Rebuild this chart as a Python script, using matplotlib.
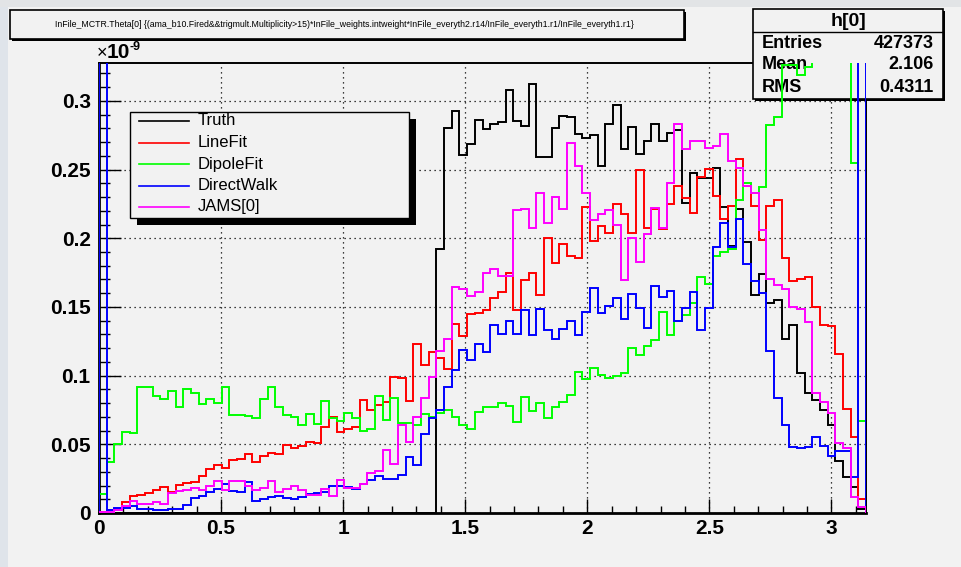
import matplotlib
matplotlib.use("Agg")
import matplotlib.pyplot as plt
from matplotlib.patches import Rectangle
from matplotlib.lines import Line2D
from matplotlib.ticker import MultipleLocator, FuncFormatter
import numpy as np

# ---- histogram contents (units of 1e-9), 100 bins over [0, pi] ----
n_bins = 100
x_min, x_max = 0.0, np.pi

truth = [0.0] * 44 + [
    0.192, 0.280, 0.2925, 0.2605, 0.2686, 0.286, 0.2796, 0.283, 0.2845, 0.308,
    0.2857, 0.2815, 0.3125, 0.259, 0.259, 0.280, 0.289, 0.288, 0.276, 0.273,
    0.2755, 0.2528, 0.283, 0.2967, 0.265, 0.2808, 0.2613, 0.271, 0.283, 0.271,
    0.277, 0.279, 0.226, 0.2475, 0.2438, 0.2438, 0.2508, 0.2228, 0.1943, 0.221,
    0.197, 0.159, 0.174, 0.153, 0.155, 0.127, 0.137, 0.102, 0.0876, 0.0822,
    0.075, 0.064, 0.038, 0.026, 0.019, 0.003]

linefit = [
    0.001, 0.0025, 0.003, 0.0078, 0.0122, 0.0134, 0.0146, 0.017, 0.019, 0.0151,
    0.0207, 0.022, 0.0227, 0.0268, 0.0317, 0.0349, 0.0324, 0.0383, 0.0395, 0.0427,
    0.0371, 0.0415, 0.0434, 0.0427, 0.0492, 0.0476, 0.049, 0.052, 0.0506, 0.0625,
    0.0698, 0.059, 0.061, 0.0627, 0.0822, 0.075, 0.0786, 0.081, 0.0993, 0.098,
    0.0815, 0.123, 0.108, 0.117, 0.113, 0.105, 0.1378, 0.1285, 0.145, 0.1456,
    0.148, 0.1565, 0.161, 0.1748, 0.148, 0.1694, 0.1748, 0.159, 0.2004, 0.182,
    0.1955, 0.187, 0.1858, 0.223, 0.198, 0.209, 0.204, 0.2248, 0.218, 0.204,
    0.2496, 0.2077, 0.221, 0.2065, 0.2248, 0.2377, 0.2296, 0.2187, 0.2443, 0.2504,
    0.2309, 0.2138, 0.2236, 0.2577, 0.238, 0.2236, 0.199, 0.2236, 0.228, 0.186,
    0.169, 0.170, 0.172, 0.150, 0.137, 0.136, 0.116, 0.076, 0.0554, 0.0104]

dipolefit = [
    0.0135, 0.037, 0.0505, 0.059, 0.058, 0.0915, 0.0915, 0.085, 0.083, 0.089,
    0.077, 0.090, 0.087, 0.079, 0.083, 0.080, 0.092, 0.071, 0.0715, 0.0705,
    0.0695, 0.083, 0.092, 0.0775, 0.071, 0.070, 0.064, 0.072, 0.0647, 0.0812,
    0.0688, 0.067, 0.073, 0.0688, 0.0597, 0.0613, 0.0854, 0.0676, 0.0834, 0.0657,
    0.0657, 0.064, 0.072, 0.070, 0.0725, 0.075, 0.070, 0.064, 0.0615, 0.0737,
    0.0774, 0.0774, 0.0803, 0.078, 0.0659, 0.0847, 0.0744, 0.0798, 0.0688, 0.0774,
    0.0805, 0.0859, 0.1025, 0.0973, 0.1054, 0.1005, 0.098, 0.0998, 0.1017, 0.120,
    0.115, 0.1217, 0.1256, 0.146, 0.1297, 0.1395, 0.144, 0.153, 0.172, 0.167,
    0.187, 0.190, 0.192, 0.228, 0.240, 0.233, 0.237, 0.2825, 0.288, 0.326,
    0.326, 0.319, 0.325, 0.37, 0.39, 0.41, 0.40, 0.38, 0.2546, 0.067]

directwalk = [
    1.5, 0.002, 0.0037, 0.0037, 0.0049, 0.003, 0.003, 0.002, 0.002, 0.003,
    0.003, 0.006, 0.011, 0.0122, 0.015, 0.0176, 0.0212, 0.0163, 0.015, 0.0228,
    0.009, 0.0102, 0.0117, 0.0127, 0.011, 0.0104, 0.012, 0.014, 0.0148, 0.0152,
    0.0194, 0.0194, 0.019, 0.0177, 0.0213, 0.0243, 0.0267, 0.025, 0.025, 0.028,
    0.0408, 0.0352, 0.0574, 0.0688, 0.075, 0.092, 0.104, 0.119, 0.1115, 0.123,
    0.117, 0.137, 0.1305, 0.140, 0.1305, 0.1475, 0.1297, 0.1485, 0.133, 0.1266,
    0.134, 0.140, 0.1297, 0.146, 0.1639, 0.1456, 0.151, 0.1565, 0.1414, 0.1595,
    0.149, 0.1346, 0.1656, 0.157, 0.1618, 0.140, 0.149, 0.161, 0.133, 0.149,
    0.194, 0.2114, 0.194, 0.2138, 0.181, 0.169, 0.160, 0.1176, 0.0835, 0.064,
    0.048, 0.047, 0.048, 0.0554, 0.0486, 0.0413, 0.045, 0.045, 0.026, 1.5]

jams = [
    0.0007, 0.001, 0.0024, 0.0049, 0.0085, 0.0068, 0.0068, 0.0078, 0.0068, 0.0146,
    0.0158, 0.017, 0.0183, 0.017, 0.020, 0.023, 0.017, 0.023, 0.023, 0.020,
    0.017, 0.0183, 0.023, 0.0151, 0.0176, 0.0194, 0.0164, 0.0128, 0.0133, 0.0177,
    0.0123, 0.0238, 0.0182, 0.0184, 0.0208, 0.029, 0.0306, 0.0457, 0.0355, 0.0644,
    0.052, 0.0696, 0.0834, 0.0993, 0.1176, 0.1266, 0.1646, 0.163, 0.158, 0.1608,
    0.1744, 0.1778, 0.1724, 0.1724, 0.2206, 0.2216, 0.2077, 0.2328, 0.2114, 0.2304,
    0.2216, 0.2693, 0.2528, 0.2328, 0.213, 0.2175, 0.2206, 0.210, 0.1694, 0.2004,
    0.1829, 0.2028, 0.2223, 0.2077, 0.2406, 0.2833, 0.265, 0.271, 0.271, 0.2654,
    0.267, 0.276, 0.2565, 0.251, 0.238, 0.233, 0.206, 0.1704, 0.166, 0.163,
    0.150, 0.1485, 0.139, 0.0876, 0.081, 0.073, 0.051, 0.047, 0.012, 0.0047]

series_names = ["Truth", "LineFit", "DipoleFit", "DirectWalk", "JAMS[0]"]
series_colors = ["#000000", "#ff0000", "#00ff00", "#0000ff", "#ff00ff"]
series_values = [truth, linefit, dipolefit, directwalk, jams]

title_text = ("InFile_MCTR.Theta[0] {(ama_b10.Fired&&trigmult.Multiplicity>15)"
              "*InFile_weights.intweight*InFile_everyth2.r14/InFile_everyth1.r1"
              "/InFile_everyth1.r1}")
stats_name = "h[0]"
stats_rows = [("Entries", "427373"), ("Mean", "2.106"), ("RMS", "0.4311")]
y_top = 0.3276

# ---- canvas ----
W, H = 961, 567
BG = "#f2f2f2"
FONT = "Liberation Sans"
fig = plt.figure(figsize=(W / 100, H / 100), dpi=100, facecolor=BG)


def fx(x):
    return x / W


def fy(y):
    return 1 - y / H


# light screen edges
fig.add_artist(Rectangle((0, 0), fx(8), 1, transform=fig.transFigure,
                         facecolor="#dfe4ea", edgecolor="none", zorder=-5))
fig.add_artist(Rectangle((0, fy(7)), 1, 7 / H, transform=fig.transFigure,
                         facecolor="#e2e4e6", edgecolor="none", zorder=-5))

ax = fig.add_axes([fx(99), fy(513), fx(866 - 99), (513 - 63) / H])
ax.set_facecolor(BG)
ax.set_xlim(x_min, x_max)
ax.set_ylim(0, y_top)

edges = np.linspace(x_min, x_max, n_bins + 1)
for i, (name, col, vals) in enumerate(zip(series_names, series_colors, series_values)):
    z = 1.9 if i == 0 else 3 + i
    ax.stairs(vals, edges, color=col, linewidth=1.4, zorder=z, baseline=0)

# axes frame
for side, sp in ax.spines.items():
    sp.set_zorder(1.8)
    sp.set_color("black")
    sp.set_linewidth(2.0 if side in ("left", "bottom") else 1.4)

ax.set_axisbelow(True)
ax.grid(True, which="major", color="black", linestyle=(0, (1, 3)), linewidth=0.9)

ax.xaxis.set_major_locator(MultipleLocator(0.5))
ax.xaxis.set_minor_locator(MultipleLocator(0.1))
ax.yaxis.set_major_locator(MultipleLocator(0.05))
ax.yaxis.set_minor_locator(MultipleLocator(0.01))
fmt = FuncFormatter(lambda v, p: "%g" % round(v, 4))
ax.xaxis.set_major_formatter(fmt)
ax.yaxis.set_major_formatter(fmt)
ax.tick_params(axis="x", which="major", direction="in", length=10, width=1.0, pad=4,
               top=False, labelsize=15)
ax.tick_params(axis="x", which="minor", direction="in", length=5, width=1.0, top=False)
ax.tick_params(axis="y", which="major", direction="in", length=16, width=1.0, pad=6,
               right=False, labelsize=15)
ax.tick_params(axis="y", which="minor", direction="in", length=8, width=1.0, right=False)
for lab in ax.get_xticklabels() + ax.get_yticklabels():
    lab.set_fontfamily(FONT)
    lab.set_fontweight("bold")


# ---- boxes with a drop shadow ----
def box(x0, y0, x1, y1, shadow, lw=1.2, z=10, target=None):
    kw = dict(transform=fig.transFigure, zorder=z, clip_on=False)
    sh = Rectangle((fx(x0 + shadow), fy(y1 + shadow)), fx(x1 - x0), (y1 - y0) / H,
                   facecolor="black", edgecolor="none", **kw)
    fr = Rectangle((fx(x0), fy(y1)), fx(x1 - x0), (y1 - y0) / H,
                   facecolor=BG, edgecolor="black", linewidth=lw, **kw)
    tgt = fig if target is None else target
    tgt.add_artist(sh)
    tgt.add_artist(fr)


box(10, 10, 684, 39, 2)
fig.text(fx(344), fy(24.5), title_text, fontsize=6.3, family=FONT, ha="center",
         va="center", zorder=11)

# exponent of the y axis
fig.text(fx(97), fy(58), "\u00d7", fontsize=13, family=FONT, ha="left", va="baseline",
         zorder=12)
fig.text(fx(107), fy(58), "10", fontsize=15, family=FONT, weight="bold",
         ha="left", va="baseline", zorder=12)
fig.text(fx(130), fy(50), "-9", fontsize=9, family=FONT, weight="bold",
         ha="left", va="baseline", zorder=12)

# ---- statistics box (drawn between Truth and the other histograms) ----
box(753, 9, 943, 99, 2, z=2.0, target=ax)
ax.add_artist(Line2D([fx(753), fx(943)], [fy(32), fy(32)], color="black", linewidth=1.0,
                     transform=fig.transFigure, clip_on=False, zorder=2.05))
ax.text(fx(849), fy(21), stats_name, fontsize=14, family=FONT, weight="bold",
        ha="center", va="center", transform=fig.transFigure, zorder=2.1)
for k, (lab, val) in enumerate(stats_rows):
    yy = fy(43 + 22 * k)
    ax.text(fx(762), yy, lab, fontsize=13, family=FONT, weight="bold", ha="left",
            va="center", transform=fig.transFigure, zorder=2.1)
    ax.text(fx(934), yy, val, fontsize=13, family=FONT, weight="bold", ha="right",
            va="center", transform=fig.transFigure, zorder=2.1)

# ---- legend ----
lg_x0, lg_y0, lg_x1, lg_y1 = 130, 112, 409, 218
fig.add_artist(Rectangle((fx(lg_x0 + 7), fy(lg_y1 + 7)), fx(lg_x1 - lg_x0), (lg_y1 - lg_y0) / H,
                         transform=fig.transFigure, facecolor="black", edgecolor="none",
                         zorder=20))
fig.add_artist(Rectangle((fx(lg_x0), fy(lg_y1)), fx(lg_x1 - lg_x0), (lg_y1 - lg_y0) / H,
                         transform=fig.transFigure, facecolor=BG, edgecolor="black",
                         linewidth=1.0, zorder=21))
for k, (name, col) in enumerate(zip(series_names, series_colors)):
    yy = fy(121 + 21.5 * k)
    fig.add_artist(Line2D([fx(139), fx(189)], [yy, yy], color=col, linewidth=1.2,
                          transform=fig.transFigure, zorder=22))
    fig.text(fx(198), yy, name, fontsize=12, family=FONT, ha="left", va="center",
             zorder=22)

fig.savefig("out.png", dpi=100, facecolor=BG)
